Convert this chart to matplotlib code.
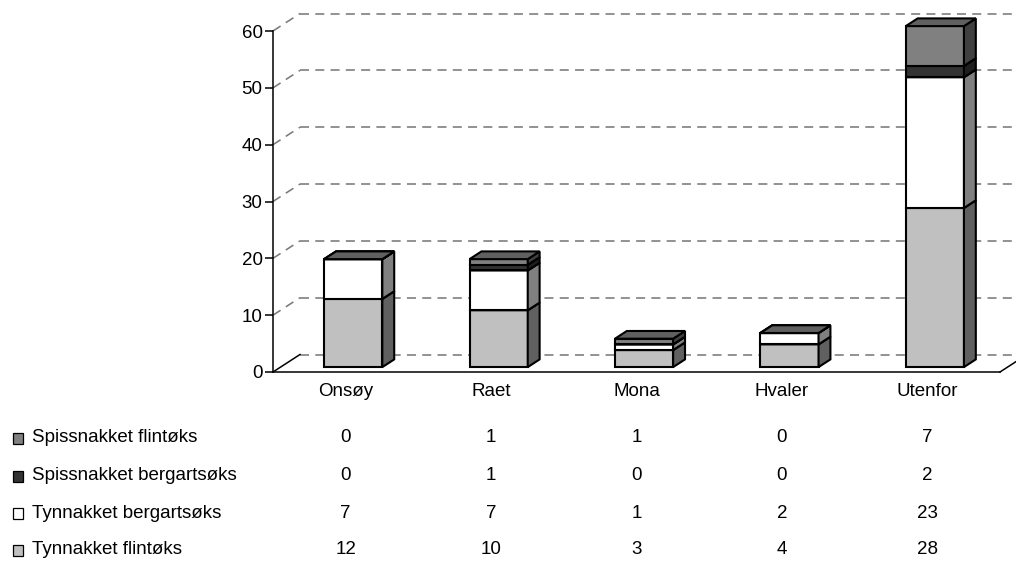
import matplotlib
matplotlib.use("Agg")
import matplotlib.pyplot as plt
from matplotlib.patches import Polygon, Rectangle
import numpy as np

plt.rcParams['font.family'] = ['Liberation Sans', 'DejaVu Sans']
plt.rcParams['lines.scale_dashes'] = False

# ---- data -------------------------------------------------------------
categories = ["Onsøy", "Raet", "Mona", "Hvaler", "Utenfor"]
series_names = ["Tynnakket flintøks", "Tynnakket bergartsøks",
                "Spissnakket bergartsøks", "Spissnakket flintøks"]
tynnakket_flint = [12, 10, 3, 4, 28]
tynnakket_bergart = [7, 7, 1, 2, 23]
spissnakket_bergart = [0, 1, 0, 0, 2]
spissnakket_flint = [0, 1, 1, 0, 7]
y_ticks = [0, 10, 20, 30, 40, 50, 60]

series_values = [tynnakket_flint, tynnakket_bergart,
                 spissnakket_bergart, spissnakket_flint]

# front / side / top shades per series
face_colors = ["#C0C0C0", "#FFFFFF", "#333333", "#808080"]
side_colors = ["#606060", "#808080", "#1E1E1E", "#404040"]
top_colors = ["#909090", "#C0C0C0", "#282828", "#606060"]

FS = 13.5

# ---- figure -----------------------------------------------------------
W, H, DPI = 1016, 562, 100
fig = plt.figure(figsize=(W / DPI, H / DPI), dpi=DPI)
fig.patch.set_facecolor("white")

x0_px, x1_px = 273, 1000
y0_px, y1_px = 372, 31
ax = fig.add_axes([x0_px / W, (H - y0_px) / H,
                   (x1_px - x0_px) / W, (y0_px - y1_px) / H])
ax.set_xlim(0, len(categories))
ax.set_ylim(0, 60)
ax.patch.set_visible(False)
for s in ["top", "right", "bottom"]:
    ax.spines[s].set_visible(False)
ax.spines["left"].set_linewidth(1.1)
ax.set_xticks([])
ax.set_yticks(y_ticks)
ax.tick_params(axis="y", direction="out", length=5.5, width=1.1, pad=2,
               labelsize=FS, colors="black")

# depth vector of the 3-D box, expressed in data units
fig.canvas.draw()
px_per_x = ax.transData.transform((1, 0))[0] - ax.transData.transform((0, 0))[0]
px_per_y = ax.transData.transform((0, 1))[1] - ax.transData.transform((0, 0))[1]
depth_dx = 27 / px_per_x
depth_dy = 17.5 / px_per_y

grid_kw = dict(color="#7A7A7A", lw=1.15, ls=(0, (6.5, 4.5)), clip_on=False, zorder=1)
# back-wall gridlines and the connecting diagonals
for v in y_ticks:
    ax.plot([depth_dx, len(categories) + depth_dx], [v + depth_dy, v + depth_dy], **grid_kw)
    if v > 0:
        ax.plot([0, depth_dx], [v, v + depth_dy], **grid_kw)

# floor outline
floor_kw = dict(color="black", lw=1.1, clip_on=False, zorder=2)
ax.plot([0, len(categories)], [0, 0], **floor_kw)
ax.plot([0, depth_dx], [0, depth_dy], **floor_kw)
ax.plot([len(categories), len(categories) + depth_dx], [0, depth_dy], **floor_kw)

# ---- stacked 3-D columns ---------------------------------------------
bar_w = 0.4
front_f, back_f = 0.28, 0.72
fdx, fdy = front_f * depth_dx, front_f * depth_dy
bdx, bdy = back_f * depth_dx, back_f * depth_dy
edge_kw = dict(edgecolor="black", linewidth=1.5, joinstyle="miter", clip_on=False)

vals = np.array(series_values, dtype=float)
bottoms = np.vstack([np.zeros(vals.shape[1]), np.cumsum(vals, axis=0)[:-1]])
z = 5
for i in range(len(categories)):
    xl = i + 0.5 - bar_w / 2 + fdx
    xr = xl + bar_w
    sdx, sdy = bdx - fdx, bdy - fdy
    for k in range(len(series_values)):
        yb = bottoms[k, i] + fdy
        yt = yb + vals[k, i]
        front = Polygon([(xl, yb), (xr, yb), (xr, yt), (xl, yt)],
                        facecolor=face_colors[k], zorder=z, **edge_kw)
        side = Polygon([(xr, yb), (xr + sdx, yb + sdy), (xr + sdx, yt + sdy), (xr, yt)],
                       facecolor=side_colors[k], zorder=z, **edge_kw)
        top = Polygon([(xl, yt), (xr, yt), (xr + sdx, yt + sdy), (xl + sdx, yt + sdy)],
                      facecolor=top_colors[k], zorder=z, **edge_kw)
        for p in (front, side, top):
            ax.add_patch(p)
        z += 1

# ---- category labels and data table ----------------------------------
centers = np.arange(len(categories)) + 0.5
for i, c in enumerate(categories):
    ax.annotate(c, xy=(centers[i], 0), xycoords="data",
                xytext=(0, -19.5 * 0.72), textcoords="offset points",
                ha="center", va="center", fontsize=FS)

row_offsets_px = [66, 104, 141, 178]   # table rows below the floor line
for r, k in enumerate(reversed(range(len(series_values)))):
    off = -row_offsets_px[r] * 0.72
    for i in range(len(categories)):
        ax.annotate(f"{int(series_values[k][i])}", xy=(centers[i], 0),
                    xycoords="data", xytext=(0, off), textcoords="offset points",
                    ha="center", va="center", fontsize=FS)
    y_fig = y0_px + row_offsets_px[r]
    fig.text(32 / W, (H - y_fig) / H, series_names[k], ha="left", va="center",
             fontsize=FS)
    fig.patches.append(Rectangle((12.5 / W, (H - y_fig - 5.5) / H), 10.5 / W, 10.5 / H,
                                 transform=fig.transFigure, facecolor=face_colors[k],
                                 edgecolor="black", linewidth=0.9))

fig.savefig("out.png", dpi=DPI)
